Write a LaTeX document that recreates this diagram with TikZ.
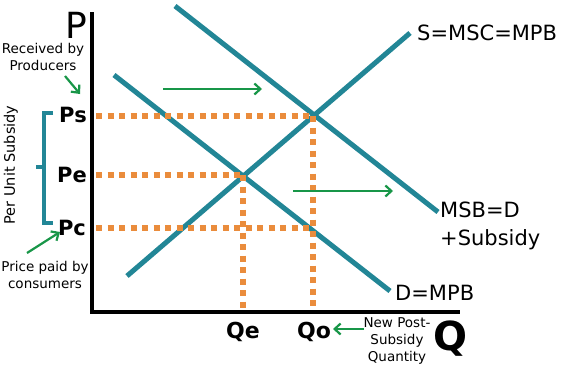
\documentclass[tikz,border=0pt]{standalone}
\usepackage{fontspec}
\setmainfont{DejaVu Sans}
\usetikzlibrary{arrows.meta}
\definecolor{teal1}{RGB}{34,134,150}
\definecolor{orng}{RGB}{234,140,60}
\definecolor{grn}{RGB}{24,150,72}
\tikzset{
  curve/.style={draw=teal1, line width=5pt},
  axisline/.style={draw=black, line width=4pt},
  dots/.style={draw=orng, line width=6pt, dash pattern=on 6pt off 5.5pt},
  garrow/.style={draw=grn, line width=2.2pt, -{Straight Barb[length=6pt,width=11pt,line width=2.2pt]}},
  small/.style={font=\fontsize{13.5}{17}\selectfont, align=center, inner sep=0pt},
  curvelabel/.style={font=\fontsize{21}{28}\selectfont, anchor=west, inner sep=0pt, align=left},
  price/.style={font=\fontsize{21}{22}\selectfont\bfseries, inner sep=0pt},
}
\begin{document}
\begin{tikzpicture}[x=1pt,y=-1pt]
\useasboundingbox (0,0) rectangle (568,372);
% axes
\coordinate (O) at (92,312);
\coordinate (Ytop) at (92,12);
\coordinate (Xend) at (460,312);
\draw[axisline] (Ytop) -- (O) -- (Xend);
\node[font=\fontsize{36}{38}\selectfont, inner sep=0pt] (P) at (76,25) {P};
\node[font=\fontsize{40}{42}\selectfont\bfseries, inner sep=0pt] (Q) at (450,339) {Q};
% curves
\coordinate (S1) at (127,276);
\coordinate (S2) at (410,33);
\coordinate (D1) at (114,75);
\coordinate (D2) at (390,291);
\coordinate (M1) at (175,6);
\coordinate (M2) at (438,212);
\draw[curve] (S1) -- (S2);
\draw[curve] (D1) -- (D2);
\draw[curve] (M1) -- (M2);
% intersections
\coordinate (Eo) at (313,116);
\coordinate (Ee) at (243,175);
\coordinate (Ec) at (313,228);
% price labels
\node[price] (Ps) at (73,115) {Ps};
\node[price] (Pe) at (72,175) {Pe};
\node[price] (Pc) at (72,228) {Pc};
\coordinate (aPs) at (96,116);
\coordinate (aPe) at (96,175);
\coordinate (aPc) at (96,228);
\coordinate (aQe) at (243,308);
\coordinate (aQo) at (313,308);
% dotted lines
\draw[dots] (aPs) -- (Eo);
\draw[dots] (aPe) -- (Ee);
\draw[dots] (aPc) -- (Ec);
\draw[dots] (Ee) -- (aQe);
\draw[dots] (Eo) -- (aQo);
% quantity labels
\node[price, font=\fontsize{22}{24}\selectfont\bfseries] (Qe) at (243,332) {Qe};
\node[price, font=\fontsize{22}{24}\selectfont\bfseries] (Qo) at (314,332) {Qo};
% curve labels
\node[curvelabel] (Slab) at (417,33) {S=MSC=MPB};
\node[curvelabel] (Mlab) at (440,226) {MSB=D\\+Subsidy};
\node[curvelabel] (Dlab) at (395,293) {D=MPB};
% shift arrows
\coordinate (g1a) at (163,89);
\coordinate (g1b) at (262,89);
\coordinate (g2a) at (293,191);
\coordinate (g2b) at (393,191);
\draw[garrow] (g1a) -- (g1b);
\draw[garrow] (g2a) -- (g2b);
% annotations
\node[small] (recv) at (43,57) {Received by\\Producers};
\coordinate (recvA) at (65,76);
\coordinate (recvB) at (80,94);
\draw[garrow] (recvA) -- (recvB);
\node[small] (paid) at (45,275) {Price paid by\\consumers};
\coordinate (paidA) at (27,253);
\coordinate (paidB) at (60,232);
\draw[garrow] (paidA) -- (paidB);
\node[small] (newq) at (397,341) {New Post-\\Subsidy\\Quantity};
\coordinate (newA) at (364,329);
\coordinate (newB) at (333,329);
\draw[garrow] (newA) -- (newB);
\node[small, font=\fontsize{14.5}{17}\selectfont, rotate=90] (pus) at (11,165) {Per Unit Subsidy};
% brace
\draw[draw=teal1, line width=3.5pt] (53,113) -- (44,113) -- (44,223) -- (53,223);
\draw[draw=teal1, line width=3.5pt] (44,167) -- (36,167);
\end{tikzpicture}
\end{document}
